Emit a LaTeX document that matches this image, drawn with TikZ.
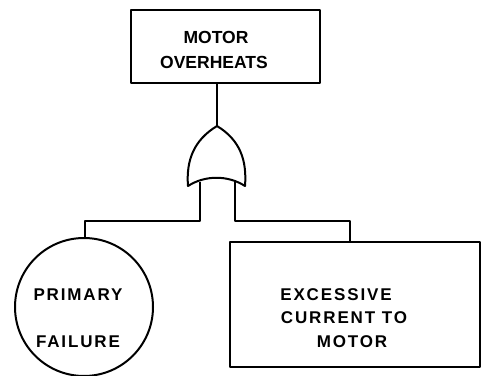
\documentclass[tikz,border=0pt]{standalone}
\usepackage{fontspec}
\setmainfont{Liberation Sans}
\newfontfamily\spaced[LetterSpace=11]{Liberation Sans}
\begin{document}
\begin{tikzpicture}[x=1pt,y=-1pt,
  line width=2pt, line join=round,
  box/.style={draw, rectangle, inner sep=0pt},
  evt/.style={draw, circle, inner sep=0pt},
  toptxt/.style={font={\bfseries\fontsize{17.5pt}{20pt}\selectfont}, inner sep=0pt},
  lowtxt/.style={font={\spaced\bfseries\fontsize{17pt}{20pt}\selectfont}, inner sep=0pt}]
\useasboundingbox (0,0) rectangle (482,375);
% top event
\node[box, minimum width=189pt, minimum height=73pt] (top) at (225.5,46.5) {};
\node[toptxt] (t1) at (216,37) {MOTOR};
\node[toptxt] (t2) at (214,62) {OVERHEATS};
% OR gate
\coordinate (apex) at (217,126);
\coordinate (gl) at (188,186);
\coordinate (gr) at (245,186);
\draw (apex) .. controls (194,140) and (186,160) .. (gl)
      .. controls (205,175) and (228,175) .. (gr)
      .. controls (247,160) and (240,140) .. (apex);
\draw (top.south -| apex) -- (apex);
% legs
\coordinate (legl) at (200,181.5);
\coordinate (legr) at (235,181.5);
\coordinate (cl) at (85,221);
\coordinate (cr) at (350,221);
% basic event
\node[evt, minimum size=138pt] (prim) at (84,307) {};
\node[lowtxt] (p1) at (78,295) {PRIMARY};
\node[lowtxt] (p2) at (78,342) {FAILURE};
% intermediate event
\node[box, minimum width=250pt, minimum height=125pt] (exc) at (355,304.5) {};
\node[lowtxt] (e1) at (336,295) {EXCESSIVE};
\node[lowtxt] (e2) at (344,318) {CURRENT TO};
\node[lowtxt] (e3) at (352,342) {MOTOR};
% connectors
\draw (legl) |- (cl) -- (prim.north -| cl);
\draw (legr) |- (cr) -- (exc.north -| cr);
\end{tikzpicture}
\end{document}
